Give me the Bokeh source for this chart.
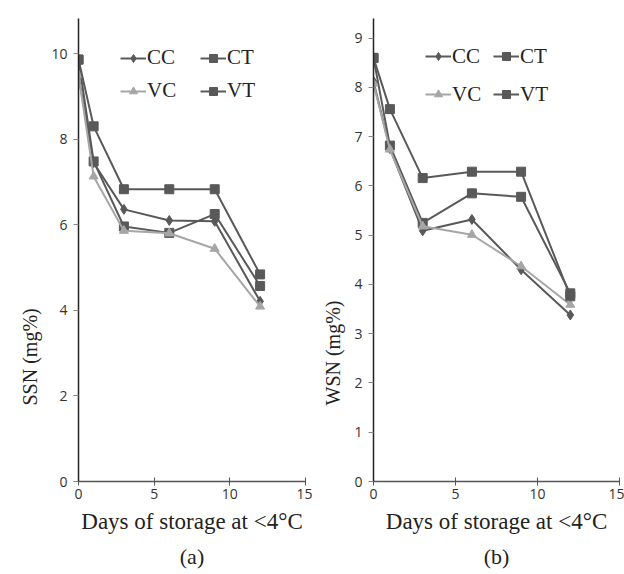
import math
from bokeh.plotting import figure
from bokeh.layouts import row
from bokeh.models import Range1d, FixedTicker, Legend, LegendItem, Title
from bokeh.embed import file_html
from bokeh.resources import INLINE

days = [0, 1, 3, 6, 9, 12]

# Panel (a) SSN (mg%)
ssn_cc = [9.50, 7.45, 6.36, 6.10, 6.08, 4.21]
ssn_ct = [9.86, 7.48, 5.96, 5.81, 6.25, 4.57]
ssn_vc = [9.50, 7.13, 5.86, 5.80, 5.44, 4.09]
ssn_vt = [9.86, 8.30, 6.83, 6.83, 6.83, 4.84]

# Panel (b) WSN (mg%)
wsn_cc = [8.12, 6.76, 5.09, 5.32, 4.30, 3.38]
wsn_ct = [8.60, 6.82, 5.25, 5.85, 5.78, 3.82]
wsn_vc = [8.08, 6.74, 5.18, 5.01, 4.37, 3.59]
wsn_vt = [8.60, 7.56, 6.16, 6.29, 6.29, 3.76]

x_ticks = [0, 5, 10, 15]
ssn_ticks = [0, 2, 4, 6, 8, 10]
wsn_ticks = [0, 1, 2, 3, 4, 5, 6, 7, 8, 9]

DARK = "#595959"
LIGHT = "#a6a6a6"
SERIF = "Liberation Serif"
SANS = "Open Sans"


def panel(series, yticks, ymax, ylabel, tag, left, right, leg_x, leg_y, col_w, row_h):
    p = figure(width=312, height=574, output_backend="svg", toolbar_location=None,
               x_range=Range1d(0, 15), y_range=Range1d(0, ymax),
               min_border_left=left, min_border_right=right,
               min_border_top=18, min_border_bottom=93)
    p.outline_line_color = None
    p.xgrid.visible = False
    p.ygrid.visible = False
    p.background_fill_color = "white"
    p.border_fill_color = "white"

    names = ["CC", "CT", "VC", "VT"]
    entries = {}
    for name, ys in zip(names, series):
        color = LIGHT if name == "VC" else DARK
        ln = p.line(days, ys, line_color=color, line_width=2)
        if name == "CC":
            mk = p.scatter(days, ys, marker="diamond", size=10, fill_color=color, line_color=color)
        elif name == "VC":
            mk = p.scatter(days, ys, marker="triangle", size=9, fill_color=color, line_color=color)
        else:
            mk = p.scatter(days, ys, marker="square", size=9, fill_color=color, line_color=color)
        entries[name] = LegendItem(label=name, renderers=[ln, mk])

    # column-major layout -> rows read CC CT / VC VT
    items = [entries["CC"], entries["VC"], entries["CT"], entries["VT"]]
    leg = Legend(items=items, ncols=2, location=(leg_x, leg_y))
    leg.background_fill_alpha = 0
    leg.border_line_color = None
    leg.padding = 0
    leg.margin = 0
    leg.glyph_width = 26
    leg.glyph_height = 20
    leg.label_standoff = 1
    leg.label_width = col_w - 27
    leg.label_height = row_h
    leg.spacing = 0
    leg.label_text_font = SERIF
    leg.label_text_font_size = "21px"
    leg.label_text_color = "#222222"
    p.add_layout(leg, "center")

    xa = p.xaxis[0]
    xa.ticker = FixedTicker(ticks=x_ticks)
    xa.minor_tick_line_color = None
    xa.major_tick_in = 4
    xa.major_tick_out = 4
    xa.axis_line_color = "#555555"
    xa.axis_line_width = 1.5
    xa.major_tick_line_color = "#555555"
    xa.major_label_text_font = SANS
    xa.major_label_text_font_size = "14px"
    xa.major_label_text_color = "#333333"
    xa.major_label_standoff = 3
    xa.axis_label = "Days of storage at <4°C"
    xa.axis_label_text_font = SERIF
    xa.axis_label_text_font_style = "normal"
    xa.axis_label_text_font_size = "23px"
    xa.axis_label_text_color = "#222222"
    xa.axis_label_standoff = 7

    ya = p.yaxis[0]
    ya.ticker = FixedTicker(ticks=yticks)
    ya.minor_tick_line_color = None
    ya.major_tick_in = 0
    ya.major_tick_out = 5
    ya.axis_line_color = "#222222"
    ya.axis_line_width = 1.5
    ya.major_tick_line_color = "#888888"
    ya.major_label_text_font = SANS
    ya.major_label_text_font_size = "14px"
    ya.major_label_text_color = "#333333"
    ya.major_label_standoff = 6

    ytitle = Title(text=ylabel, align="left", offset=76, text_font=SERIF,
                   text_font_size="20px", text_font_style="normal",
                   text_color="#222222", standoff=15)
    p.add_layout(ytitle, "left")

    t = Title(text=tag, align="center", text_font=SERIF, text_font_size="22px",
              text_font_style="normal", text_color="#222222")
    p.add_layout(t, "below")
    return p


pa = panel([ssn_cc, ssn_ct, ssn_vc, ssn_vt], ssn_ticks, 10.82, "SSN (mg%)", "(a)",
           78, 7, 42, 374, 80, 33)
pb = panel([wsn_cc, wsn_ct, wsn_vc, wsn_vt], wsn_ticks, 9.40, "WSN (mg%)", "(b)",
           61, 5, 52, 368, 68, 38)

layout = row(pa, pb)
open("out.html", "w").write(file_html(layout, INLINE))
